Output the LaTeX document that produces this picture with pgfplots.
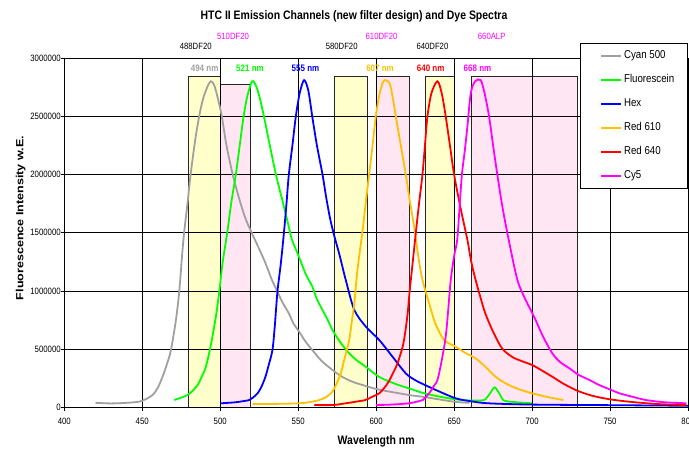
\documentclass[border=0pt]{standalone}
\usepackage{fontspec}
\setmainfont{Liberation Sans}[FakeStretch=0.85]
\usepackage{pgfplots}
\pgfplotsset{compat=1.18}
\definecolor{cgray}{RGB}{160,160,160}
\definecolor{cgreen}{RGB}{0,255,0}
\definecolor{cblue}{RGB}{0,0,255}
\definecolor{corange}{RGB}{255,192,0}
\definecolor{cred}{RGB}{255,0,0}
\definecolor{cmag}{RGB}{255,0,255}
\definecolor{byellow}{RGB}{255,255,204}
\definecolor{bpink}{RGB}{255,230,242}
\begin{document}
\begin{tikzpicture}
\begin{axis}[
  set layers,
  scale only axis, width=623.7pt, height=349.5pt,
  xmin=400, xmax=800, ymin=0, ymax=3000000,
  xtick={400,450,...,800}, ytick={0,500000,...,3000000},
  xtick pos=bottom, ytick pos=left,
  tick align=outside, major tick length=3.5pt,
  tick style={black, line width=0.7pt},
  grid=major, major grid style={black, line width=0.7pt},
  axis line style={black, line width=0.7pt},
  scaled y ticks=false,
  yticklabel style={/pgf/number format/fixed, /pgf/number format/1000 sep={}, xshift=3.5pt},
  xticklabel style={yshift=-4pt},
  /pgf/number format/assume math mode=true,
  ticklabel style={font=\fontsize{9.2}{10}\selectfont},
  clip=false,
  every axis plot/.append style={line width=1.8pt},
  legend style={at={(0.8266,1.042)}, anchor=north west, draw=black, fill=white,
    line width=0.7pt,
    font=\fontsize{11.4}{13}\selectfont, inner xsep=13pt, inner ysep=7pt, row sep=13.5pt,
    column sep=2pt,
    nodes={inner sep=0pt, text height=8pt, text depth=2.5pt}},
  legend cell align=left,
  legend image code/.code={\draw[#1, line width=2pt] (7pt,0pt) -- (27pt,0pt); \path (0pt,0pt);},
]
% filter boxes
\addplot[on layer=axis background, forget plot, fill=byellow, draw=black!85, line width=0.8pt] coordinates {(479.5,0) (479.5,2840000) (499.9,2840000) (499.9,0)} -- cycle;
\addplot[on layer=axis background, forget plot, fill=bpink, draw=black!85, line width=0.8pt] coordinates {(499.9,0) (499.9,2774000) (519.3,2774000) (519.3,0)} -- cycle;
\addplot[on layer=axis background, forget plot, fill=byellow, draw=black!85, line width=0.8pt] coordinates {(573.2,0) (573.2,2840000) (594.3,2840000) (594.3,0)} -- cycle;
\addplot[on layer=axis background, forget plot, fill=bpink, draw=black!85, line width=0.8pt] coordinates {(600.3,0) (600.3,2840000) (621.3,2840000) (621.3,0)} -- cycle;
\addplot[on layer=axis background, forget plot, fill=byellow, draw=black!85, line width=0.8pt] coordinates {(631.3,0) (631.3,2840000) (650.1,2840000) (650.1,0)} -- cycle;
\addplot[on layer=axis background, forget plot, fill=bpink, draw=black!85, line width=0.8pt] coordinates {(661.3,0) (661.3,2840000) (729.0,2840000) (729.0,0)} -- cycle;
% Cyan 500
\addplot[cgray, smooth] coordinates {
(420,40000) (430,35000) (440,40000) (448,50000) (452,70000) (456.6,107000) (460,170000) (463,264000) (466,380000) (468.4,494000) (471.6,751000) (473.7,994000) (475.8,1350000) (477,1520000) (479,1750000) (481,2000000) (484,2300000) (486.5,2500000) (489,2650000) (492,2760000) (494,2800000) (496,2770000) (498,2680000) (501,2500000) (504,2250000) (508,2000000) (512,1800000) (516,1630000) (519.5,1520000) (525,1360000) (529,1240000) (533,1100000) (536.7,994000) (540,900000) (544,808000) (547,720000) (550.6,651000) (555,560000) (559,494000) (565,400000) (572,322000) (578,265000) (584.8,221000) (592,190000) (599.7,160000) (607,140000) (614.7,122000) (622,105000) (631,90000) (640,70000) (651,48000) (660,40000)};
\addlegendentry{Cyan 500}
% Fluorescein
\addplot[cgreen, smooth] coordinates {
(470.5,64000) (475,85000) (479,107000) (482,140000) (485.5,193000) (488,260000) (490.8,350000) (494,537000) (497.2,780000) (499.4,994000) (501.5,1240000) (504.7,1520000) (507,1750000) (510,2000000) (512.5,2250000) (515,2500000) (517.5,2680000) (520.5,2800000) (523,2760000) (525.5,2650000) (528,2500000) (531.5,2270000) (535.7,2000000) (540,1770000) (544,1550000) (546,1440000) (550.6,1290000) (555,1140000) (559,1040000) (562,930000) (565.6,837000) (569,750000) (572,665000) (577,560000) (582.7,465000) (588,400000) (593.4,350000) (598,300000) (602,262000) (608,225000) (615,190000) (622,160000) (630,125000) (640,95000) (651,70000) (660,60000) (667,60000) (670,70000) (673,120000) (676,173000) (679,120000) (682,60000) (690,45000) (700,36000)};
\addlegendentry{Fluorescein}
% Hex
\addplot[cblue, smooth] coordinates {
(500.4,36000) (505,40000) (510,45000) (515,55000) (518.6,64000) (521,85000) (524,122000) (526.5,180000) (529,264000) (531,360000) (533.5,494000) (535,700000) (536.7,994000) (538.9,1240000) (541,1520000) (542.5,1750000) (544,2000000) (546.3,2250000) (548.5,2500000) (551,2700000) (553.8,2810000) (556.5,2720000) (559,2500000) (562,2250000) (565.6,2000000) (568,1800000) (570.5,1620000) (573,1480000) (576.3,1320000) (580.6,1090000) (586,837000) (593.4,694000) (602,579000) (610.5,436000) (619,293000) (625,235000) (631.8,190000) (640,140000) (651,79000) (660,55000) (672,36000) (700,25000) (750,20000) (800,15000)};
\addlegendentry{Hex}
% Red 610
\addplot[corange, smooth] coordinates {
(520.7,30000) (530,30000) (540,32000) (550.6,36000) (557,45000) (563.5,64000) (568,90000) (571,122000) (573,160000) (575.2,221000) (577.5,300000) (579.5,408000) (582.7,579000) (584.3,730000) (586,894000) (588,1180000) (591.3,1520000) (593.5,1780000) (595.5,2000000) (597.7,2250000) (599.8,2500000) (602,2680000) (604,2780000) (605.5,2810000) (607.5,2800000) (609,2770000) (610.5,2670000) (612.6,2500000) (615.8,2250000) (619,2000000) (621.5,1780000) (624.4,1550000) (627,1300000) (629.7,1094000) (634,894000) (638,720000) (643.6,579000) (651,522000) (657,470000) (663.8,422000) (670,350000) (676.6,264000) (682,215000) (687.4,179000) (693,150000) (700,122000) (710,90000) (720,64000)};
\addlegendentry{Red 610}
% Red 640
\addplot[cred, smooth] coordinates {
(560.3,21000) (572,21000) (580,35000) (587,50000) (593,64000) (598,95000) (602,122000) (605,165000) (608,221000) (611,300000) (613.7,379000) (617,522000) (618.7,650000) (620.2,808000) (621.5,1000000) (623.4,1240000) (625.6,1520000) (627.5,1750000) (629.7,2000000) (631.3,2250000) (632.9,2500000) (635.5,2700000) (639.3,2800000) (642,2700000) (644.6,2500000) (647.3,2250000) (650,2000000) (654,1720000) (658.5,1440000) (661,1250000) (663.8,1094000) (667,940000) (670,808000) (675,650000) (680.7,508000) (687,436000) (693,400000) (700,365000) (706,320000) (713,264000) (720,205000) (728,150000) (735,115000) (741,93000) (750,70000) (762,50000) (780,30000) (799,21000)};
\addlegendentry{Red 640}
% Cy5
\addplot[cmag, smooth] coordinates {
(600,21000) (610,25000) (621,36000) (626,50000) (630,65000) (632,90000) (635,140000) (637,185000) (639.3,236000) (642,400000) (644.6,608000) (646.3,850000) (647.8,1090000) (650,1300000) (652,1440000) (653.5,1720000) (655,2000000) (656.8,2200000) (658.5,2410000) (660.7,2700000) (663.5,2800000) (667,2810000) (669.5,2700000) (672.4,2500000) (675,2250000) (677.7,2000000) (681,1720000) (685,1440000) (690.6,1094000) (696,920000) (701.3,779000) (707,610000) (713,465000) (718,390000) (724,336000) (730,279000) (737,235000) (743,193000) (750,155000) (756,122000) (765,90000) (773,64000) (785,45000) (799,36000)};
\addlegendentry{Cy5}
% peak labels
\node[font=\bfseries\fontsize{9.4}{10}\selectfont, text=cgray] at (axis cs:490.0,2912000) {494 nm};
\node[font=\bfseries\fontsize{9.4}{10}\selectfont, text=cgreen] at (axis cs:519.1,2912000) {521 nm};
\node[font=\bfseries\fontsize{9.4}{10}\selectfont, text=cblue] at (axis cs:554.7,2912000) {555 nm};
\node[font=\bfseries\fontsize{9.4}{10}\selectfont, text=corange] at (axis cs:602.5,2912000) {607 nm};
\node[font=\bfseries\fontsize{9.4}{10}\selectfont, text=cred] at (axis cs:635.0,2912000) {640 nm};
\node[font=\bfseries\fontsize{9.4}{10}\selectfont, text=cmag] at (axis cs:665.0,2912000) {668 nm};
% filter labels
\node[font=\fontsize{9.1}{10}\selectfont] at (axis cs:484.3,3097000) {488DF20};
\node[font=\fontsize{9.1}{10}\selectfont, text=cmag] at (axis cs:508.2,3189000) {510DF20};
\node[font=\fontsize{9.1}{10}\selectfont] at (axis cs:577.9,3097000) {580DF20};
\node[font=\fontsize{9.1}{10}\selectfont, text=cmag] at (axis cs:603.5,3189000) {610DF20};
\node[font=\fontsize{9.1}{10}\selectfont] at (axis cs:636.1,3097000) {640DF20};
\node[font=\fontsize{9.1}{10}\selectfont, text=cmag] at (axis cs:674.1,3189000) {660ALP};
% titles
\node[font=\bfseries\fontsize{12.3}{14}\selectfont] at (rel axis cs:0.4645,1.1187) {HTC II Emission Channels (new filter design) and Dye Spectra};
\node[font=\bfseries\fontsize{12.3}{14}\selectfont] at (rel axis cs:0.5,-0.0958) {Wavelength nm};
\node[font=\bfseries\fontsize{10.4}{12}\selectfont, rotate=90] at (rel axis cs:-0.0700,0.542) {\scalebox{1.42}[1]{Fluorescence Intensity w.E.}};
\end{axis}
\pgfresetboundingbox
\path[use as bounding box] (-64.3pt,-41.5pt) rectangle (624.7pt,407.5pt);
\end{tikzpicture}
\end{document}
